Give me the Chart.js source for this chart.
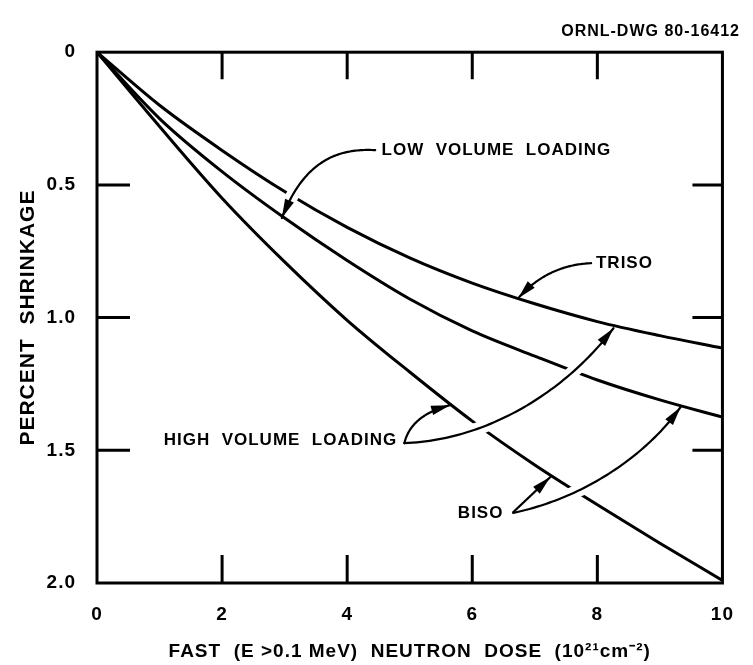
<!DOCTYPE html>
<html><head><meta charset="utf-8">
<script src="https://cdn.jsdelivr.net/npm/chart.js@4.4.1/dist/chart.umd.min.js"></script>
<style>html,body{margin:0;padding:0;background:#fff}#wrap{width:753px;height:665px}</style>
</head><body><div id="wrap"><canvas id="c" width="753" height="665"></canvas></div>
<script>
// ---- data ----
const dose = [0, 1, 2, 3, 4, 5, 6, 7, 8, 9, 10];               // 10^21 n/cm^2
const curveTop = [0, 0.20, 0.37, 0.525, 0.66, 0.775, 0.87, 0.948, 1.015, 1.068, 1.115];   // TRISO, low volume loading
const curveMid = [0, 0.25, 0.45, 0.625, 0.785, 0.93, 1.05, 1.145, 1.235, 1.31, 1.375];    // TRISO high / BISO low loading
const curveBot = [0, 0.28, 0.55, 0.79, 1.01, 1.205, 1.39, 1.555, 1.705, 1.85, 1.99];      // BISO, high volume loading
const xTicks = [0, 2, 4, 6, 8, 10];
const yTicks = [0, 0.5, 1.0, 1.5, 2.0];
const yTickLabels = ['0', '0.5', '1.0', '1.5', '2.0'];

// ---- annotations (data units) ----
const arrows = [
  {pts: [[4.448, 0.369], [3.857, 0.362], [3.313, 0.407], [2.955, 0.625]], halo: [0.5, 0.93]},
  {pts: [[7.900, 0.795], [7.201, 0.802], [6.734, 0.927]], halo: null},
  {pts: [[4.914, 1.473], [5.023, 1.367], [5.645, 1.330]], halo: null},
  {pts: [[4.914, 1.473], [6.267, 1.461], [7.512, 1.273], [8.258, 1.040]], halo: [0.1, 0.9]},
  {pts: [[6.656, 1.733], [7.247, 1.601]], halo: null},
  {pts: [[6.656, 1.736], [7.978, 1.669], [8.911, 1.480], [9.331, 1.337]], halo: [0.12, 0.85]}
];
const notes = [
  {text: 'LOW  VOLUME  LOADING', x: 4.55, y: 0.369, align: 'left'},
  {text: 'TRISO', x: 7.978, y: 0.795, align: 'left'},
  {text: 'HIGH  VOLUME  LOADING', x: 4.80, y: 1.461, align: 'right'},
  {text: 'BISO', x: 5.770, y: 1.736, align: 'left'}
];

const FONT = '"Liberation Sans", Arial, Helvetica, sans-serif';

function bez(p, t) {
  let q = p.map(a => a.slice());
  while (q.length > 1) {
    const n = [];
    for (let i = 0; i < q.length - 1; i++) n.push([q[i][0] + (q[i + 1][0] - q[i][0]) * t, q[i][1] + (q[i + 1][1] - q[i][1]) * t]);
    q = n;
  }
  return q[0];
}

const spacingPlugin = {
  id: 'spacing',
  beforeDraw(chart) { chart.ctx.letterSpacing = '1px'; },
  beforeDatasetsDraw(chart) { chart.ctx.letterSpacing = '0px'; }
};

const annotPlugin = {
  id: 'annot',
  afterDatasetsDraw(chart) {
    const ctx = chart.ctx, xs = chart.scales.x, ys = chart.scales.y;
    const P = a => [xs.getPixelForValue(a[0]), ys.getPixelForValue(a[1])];
    ctx.save();
    ctx.lineJoin = 'round';
    // white halos -> gaps in the curves where arrows cross them
    arrows.forEach(a => {
      if (!a.halo) return;
      const pp = a.pts.map(P);
      ctx.beginPath();
      for (let i = 0; i <= 40; i++) {
        const t = a.halo[0] + (a.halo[1] - a.halo[0]) * i / 40;
        const q = bez(pp, t);
        if (i === 0) ctx.moveTo(q[0], q[1]); else ctx.lineTo(q[0], q[1]);
      }
      ctx.strokeStyle = '#fff'; ctx.lineWidth = 13; ctx.lineCap = 'butt';
      ctx.stroke();
    });
    ctx.lineCap = 'round';
    // arrows
    arrows.forEach(a => {
      const pp = a.pts.map(P);
      ctx.beginPath();
      for (let i = 0; i <= 60; i++) {
        const q = bez(pp, i / 60);
        if (i === 0) ctx.moveTo(q[0], q[1]); else ctx.lineTo(q[0], q[1]);
      }
      ctx.strokeStyle = '#000'; ctx.lineWidth = 2.2; ctx.stroke();
      const tip = pp[pp.length - 1], prev = bez(pp, 0.9);
      let dx = tip[0] - prev[0], dy = tip[1] - prev[1];
      const L = Math.hypot(dx, dy); dx /= L; dy /= L;
      const len = 19, hw = 4.8;
      const bx = tip[0] - dx * len, by = tip[1] - dy * len;
      ctx.beginPath();
      ctx.moveTo(tip[0], tip[1]);
      ctx.lineTo(bx - dy * hw, by + dx * hw);
      ctx.lineTo(bx + dy * hw, by - dx * hw);
      ctx.closePath();
      ctx.fillStyle = '#000'; ctx.fill();
    });
    // labels
    ctx.letterSpacing = '1px';
    ctx.font = 'bold 17px ' + FONT;
    ctx.fillStyle = '#000';
    ctx.textBaseline = 'middle';
    notes.forEach(n => {
      const q = P([n.x, n.y]);
      ctx.textAlign = n.align;
      ctx.fillText(n.text, q[0], q[1]);
    });
    ctx.restore();
  },
  afterDraw(chart) {
    const ctx = chart.ctx, a = chart.chartArea, xs = chart.scales.x, ys = chart.scales.y;
    ctx.save();
    ctx.strokeStyle = '#000';
    ctx.lineWidth = 3;
    ctx.lineJoin = 'miter';
    ctx.strokeRect(a.left, a.top, a.right - a.left, a.bottom - a.top);
    ctx.beginPath();
    xTicks.forEach(v => {
      if (v === xs.min || v === xs.max) return;
      const px = xs.getPixelForValue(v);
      ctx.moveTo(px, a.top); ctx.lineTo(px, a.top + 27);
      ctx.moveTo(px, a.bottom); ctx.lineTo(px, a.bottom - 28);
    });
    yTicks.forEach(v => {
      if (v === ys.min || v === ys.max) return;
      const py = ys.getPixelForValue(v);
      ctx.moveTo(a.left, py); ctx.lineTo(a.left + 33, py);
      ctx.moveTo(a.right, py); ctx.lineTo(a.right - 30, py);
    });
    ctx.stroke();
    ctx.restore();
  }
};

const mk = (arr, name) => ({
  label: name,
  data: dose.map((d, i) => ({x: d, y: arr[i]})),
  borderColor: '#000', borderWidth: 3, pointRadius: 0, fill: false,
  cubicInterpolationMode: 'monotone'
});

new Chart(document.getElementById('c'), {
  type: 'line',
  data: {datasets: [
    mk(curveTop, 'TRISO, low volume loading'),
    mk(curveMid, 'TRISO high / BISO low volume loading'),
    mk(curveBot, 'BISO, high volume loading')
  ]},
  options: {
    responsive: false, animation: false, devicePixelRatio: 1,
    layout: {padding: {left: 0, right: 13, top: 0, bottom: 0}},
    plugins: {
      legend: {display: false}, tooltip: {enabled: false},
      title: {display: true, text: 'ORNL-DWG 80-16412', align: 'end', color: '#000',
        font: {family: FONT, size: 16, weight: 'bold', lineHeight: 1.2}, padding: {top: 22, bottom: 11}}
    },
    scales: {
      x: {
        type: 'linear', min: 0, max: 10,
        afterBuildTicks: s => { s.ticks = xTicks.map(v => ({value: v})); },
        afterFit: s => { s.height = 82; },
        grid: {display: false, drawTicks: false}, border: {display: false},
        ticks: {color: '#000', padding: 20, maxRotation: 0, font: {family: FONT, size: 19, weight: 'bold'},
          callback: v => String(v)},
        title: {display: true, text: 'FAST  (E >0.1 MeV)  NEUTRON  DOSE  (10²¹cm⁻²)', color: '#000',
          font: {family: FONT, size: 19, weight: 'bold', lineHeight: 1.2}, padding: {top: 0, bottom: 2}}
      },
      y: {
        reverse: true, min: 0, max: 2,
        afterBuildTicks: s => { s.ticks = yTicks.map(v => ({value: v})); },
        afterFit: s => { s.width = 97; },
        grid: {display: false, drawTicks: false}, border: {display: false},
        ticks: {color: '#000', padding: 21, font: {family: FONT, size: 19, weight: 'bold'},
          callback: v => yTickLabels[yTicks.indexOf(v)]},
        title: {display: true, text: 'PERCENT  SHRINKAGE', color: '#000',
          font: {family: FONT, size: 21, weight: 'bold', lineHeight: 1.2}, padding: {top: 16, bottom: 0}}
      }
    }
  },
  plugins: [spacingPlugin, annotPlugin]
});
</script>
</body></html>
